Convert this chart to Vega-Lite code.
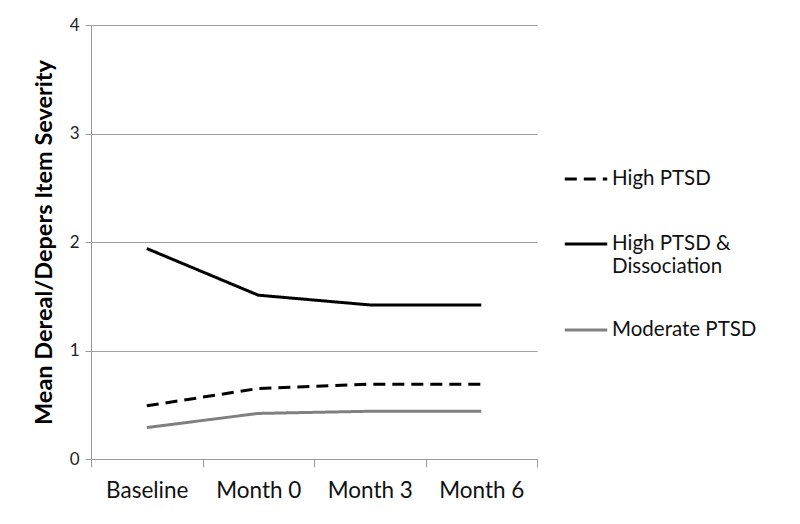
{
  "$schema": "https://vega.github.io/schema/vega-lite/v6.json",
  "width": 446,
  "height": 434,
  "autosize": {"type": "none"},
  "padding": {"left": 91, "top": 25, "right": 263, "bottom": 65},
  "background": "white",
  "config": {
    "font": "Lato",
    "view": {"stroke": null},
    "axis": {"labelFont": "Lato", "titleFont": "Lato"}
  },
  "data": {
    "values": [
      {"time": "Baseline", "group": "High PTSD", "value": 0.49},
      {"time": "Month 0", "group": "High PTSD", "value": 0.65},
      {"time": "Month 3", "group": "High PTSD", "value": 0.69},
      {"time": "Month 6", "group": "High PTSD", "value": 0.69},
      {"time": "Baseline", "group": "High PTSD & Dissociation", "value": 1.94},
      {"time": "Month 0", "group": "High PTSD & Dissociation", "value": 1.51},
      {"time": "Month 3", "group": "High PTSD & Dissociation", "value": 1.42},
      {"time": "Month 6", "group": "High PTSD & Dissociation", "value": 1.42},
      {"time": "Baseline", "group": "Moderate PTSD", "value": 0.29},
      {"time": "Month 0", "group": "Moderate PTSD", "value": 0.42},
      {"time": "Month 3", "group": "Moderate PTSD", "value": 0.44},
      {"time": "Month 6", "group": "Moderate PTSD", "value": 0.44}
    ]
  },
  "mark": {"type": "line", "strokeWidth": 3},
  "encoding": {
    "x": {
      "field": "time",
      "type": "ordinal",
      "bandPosition": 0.5,
      "sort": ["Baseline", "Month 0", "Month 3", "Month 6"],
      "scale": {"type": "band", "paddingInner": 0, "paddingOuter": 0},
      "axis": {
        "title": null,
        "labelAngle": 0,
        "labelFontSize": 22.5,
        "labelColor": "#111",
        "labelPadding": 12,
        "tickBand": "extent",
        "tickSize": 8,
        "tickColor": "#9a9a9a",
        "domainColor": "#9a9a9a",
        "grid": false
      }
    },
    "y": {
      "field": "value",
      "type": "quantitative",
      "scale": {"domain": [0, 4], "nice": false},
      "axis": {
        "title": "Mean Dereal/Depers Item Severity",
        "titleFontSize": 23.5,
        "titleFontWeight": "bold",
        "titleColor": "#000",
        "titlePadding": 13,
        "values": [0, 1, 2, 3, 4],
        "format": "d",
        "labelFontSize": 17,
        "labelColor": "#222",
        "labelPadding": 6,
        "tickSize": 6,
        "tickColor": "#9a9a9a",
        "domainColor": "#9a9a9a",
        "gridColor": "#a0a0a0",
        "grid": true
      }
    },
    "color": {
      "field": "group",
      "type": "nominal",
      "scale": {
        "domain": ["High PTSD", "High PTSD & Dissociation", "Moderate PTSD"],
        "range": ["#000000", "#000000", "#808080"]
      },
      "legend": {
        "title": null,
        "orient": "none",
        "legendX": 472,
        "legendY": 142,
        "symbolType": "stroke",
        "symbolSize": 1800,
        "symbolStrokeWidth": 3,
        "labelFontSize": 20.5,
        "labelColor": "#111",
        "labelLimit": 300,
        "labelOffset": 3,
        "clipHeight": 24,
        "rowPadding": 41,
        "padding": 0,
        "labelExpr": "datum.label == 'High PTSD & Dissociation' ? ['High PTSD &', 'Dissociation'] : datum.label"
      }
    },
    "strokeDash": {
      "field": "group",
      "type": "nominal",
      "scale": {
        "domain": ["High PTSD", "High PTSD & Dissociation", "Moderate PTSD"],
        "range": [[12, 7], [1, 0], [1, 0]]
      },
      "legend": null
    }
  }
}
